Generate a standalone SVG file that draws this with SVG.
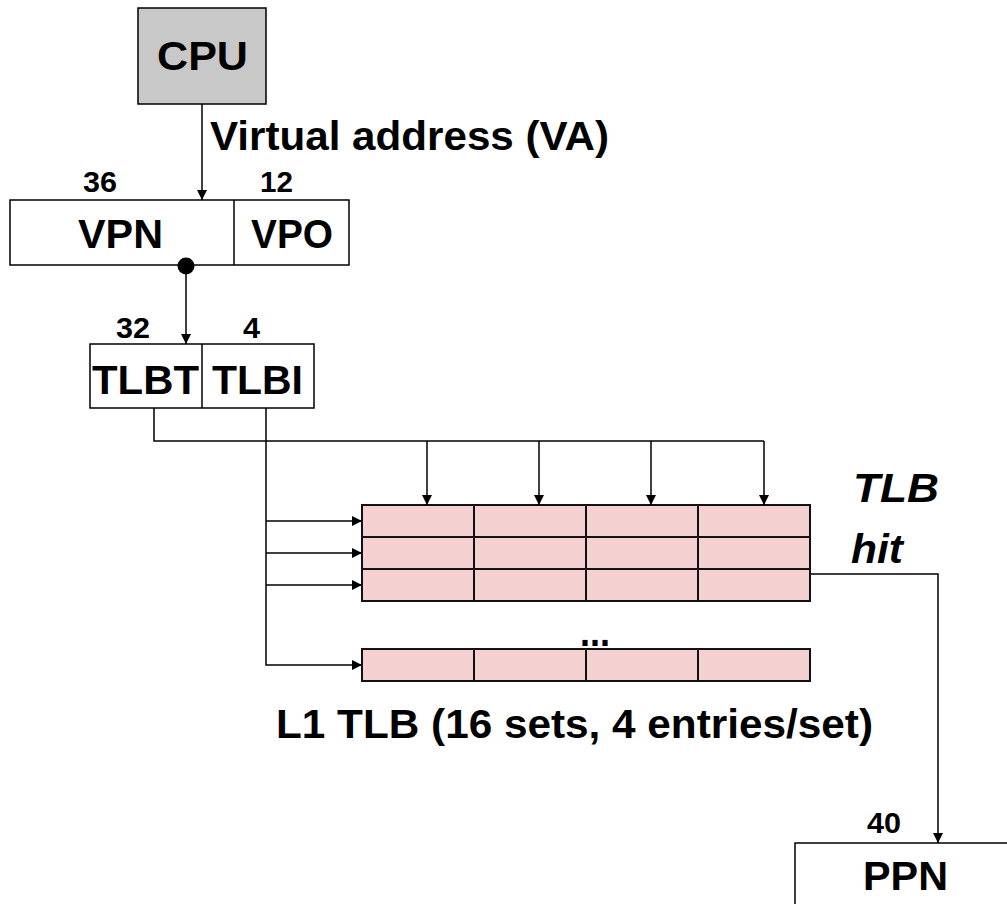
<svg xmlns="http://www.w3.org/2000/svg" width="1007" height="904" viewBox="0 0 1007 904">
<style>
.box{fill:#ffffff;stroke:#000;stroke-width:1.5}
.cpu{fill:#c8c8c8;stroke:#000;stroke-width:1.5}
.cell{fill:#f4d0d0;stroke:#111;stroke-width:2}
.lbl{font-family:"Liberation Sans",Arial,sans-serif;font-weight:bold;font-size:40px;fill:#000}
.num{font-family:"Liberation Sans",Arial,sans-serif;font-weight:bold;font-size:30px;fill:#000}
.it{font-family:"Liberation Sans",Arial,sans-serif;font-weight:bold;font-style:italic;font-size:40px;fill:#000}
.wire{fill:none;stroke:#000;stroke-width:1.5}
</style>
<defs>
<marker id="ah" markerUnits="userSpaceOnUse" markerWidth="10" markerHeight="10" refX="10" refY="5" orient="auto">
<path d="M0,0 L10,5 L0,10 z" fill="#000"/>
</marker>
</defs>
<rect width="1007" height="904" fill="#fff"/>

<g id="cpu">
<rect class="cpu" x="138" y="8" width="128" height="96"/>
<text class="lbl" x="157" y="70" textLength="91" lengthAdjust="spacingAndGlyphs">CPU</text>
</g>

<g id="va-label">
<text class="lbl" x="210" y="150" textLength="399" lengthAdjust="spacingAndGlyphs">Virtual address (VA)</text>
</g>

<g id="va">
<rect class="box" x="10" y="200" width="339" height="65"/>
<line class="wire" x1="234" y1="200" x2="234" y2="265"/>
<text class="num" x="83" y="192" textLength="34" lengthAdjust="spacingAndGlyphs">36</text>
<text class="num" x="260" y="192" textLength="33" lengthAdjust="spacingAndGlyphs">12</text>
<text class="lbl" x="78" y="248" textLength="85" lengthAdjust="spacingAndGlyphs">VPN</text>
<text class="lbl" x="251" y="248" textLength="82" lengthAdjust="spacingAndGlyphs">VPO</text>
</g>

<g id="tlb-addr">
<rect class="box" x="90" y="344" width="224" height="64"/>
<line class="wire" x1="202" y1="344" x2="202" y2="408"/>
<text class="num" x="116" y="338" textLength="34" lengthAdjust="spacingAndGlyphs">32</text>
<text class="num" x="243" y="338" textLength="17" lengthAdjust="spacingAndGlyphs">4</text>
<text class="lbl" x="92" y="394" textLength="107" lengthAdjust="spacingAndGlyphs">TLBT</text>
<text class="lbl" x="212" y="394" textLength="91" lengthAdjust="spacingAndGlyphs">TLBI</text>
</g>

<g id="tlb">
<rect class="cell" x="362" y="505" width="112" height="32"/>
<rect class="cell" x="474" y="505" width="112" height="32"/>
<rect class="cell" x="586" y="505" width="112" height="32"/>
<rect class="cell" x="698" y="505" width="112" height="32"/>
<rect class="cell" x="362" y="537" width="112" height="32"/>
<rect class="cell" x="474" y="537" width="112" height="32"/>
<rect class="cell" x="586" y="537" width="112" height="32"/>
<rect class="cell" x="698" y="537" width="112" height="32"/>
<rect class="cell" x="362" y="569" width="112" height="32"/>
<rect class="cell" x="474" y="569" width="112" height="32"/>
<rect class="cell" x="586" y="569" width="112" height="32"/>
<rect class="cell" x="698" y="569" width="112" height="32"/>
<rect class="cell" x="362" y="649" width="112" height="32"/>
<rect class="cell" x="474" y="649" width="112" height="32"/>
<rect class="cell" x="586" y="649" width="112" height="32"/>
<rect class="cell" x="698" y="649" width="112" height="32"/>
<text class="lbl" x="580" y="646" textLength="30" lengthAdjust="spacingAndGlyphs">...</text>
<text class="lbl" x="276" y="738" textLength="597" lengthAdjust="spacingAndGlyphs">L1 TLB (16 sets, 4 entries/set)</text>
</g>

<g id="tlb-hit-label">
<text class="it" x="853" y="502" textLength="86" lengthAdjust="spacingAndGlyphs">TLB</text>
<text class="it" x="851" y="563" textLength="52" lengthAdjust="spacingAndGlyphs">hit</text>
</g>

<g id="ppn">
<rect class="box" x="795" y="843" width="230" height="80"/>
<text class="num" x="867" y="833" textLength="34" lengthAdjust="spacingAndGlyphs">40</text>
<text class="lbl" x="863" y="890" textLength="85" lengthAdjust="spacingAndGlyphs">PPN</text>
</g>

<g id="connectors">
<path class="wire" d="M202,104 V200" marker-end="url(#ah)"/>
<circle cx="186" cy="266" r="8.5" fill="#000"/>
<path class="wire" d="M186,266 V344" marker-end="url(#ah)"/>
<path class="wire" d="M154,408 V441 H764"/>
<path class="wire" d="M427,441 V505" marker-end="url(#ah)"/>
<path class="wire" d="M539,441 V505" marker-end="url(#ah)"/>
<path class="wire" d="M651,441 V505" marker-end="url(#ah)"/>
<path class="wire" d="M764,441 V505" marker-end="url(#ah)"/>
<path class="wire" d="M266,408 V665 H362" marker-end="url(#ah)"/>
<path class="wire" d="M266,521 H362" marker-end="url(#ah)"/>
<path class="wire" d="M266,553 H362" marker-end="url(#ah)"/>
<path class="wire" d="M266,585 H362" marker-end="url(#ah)"/>
<path class="wire" d="M810,574 H938 V843" marker-end="url(#ah)"/>
</g>
</svg>
